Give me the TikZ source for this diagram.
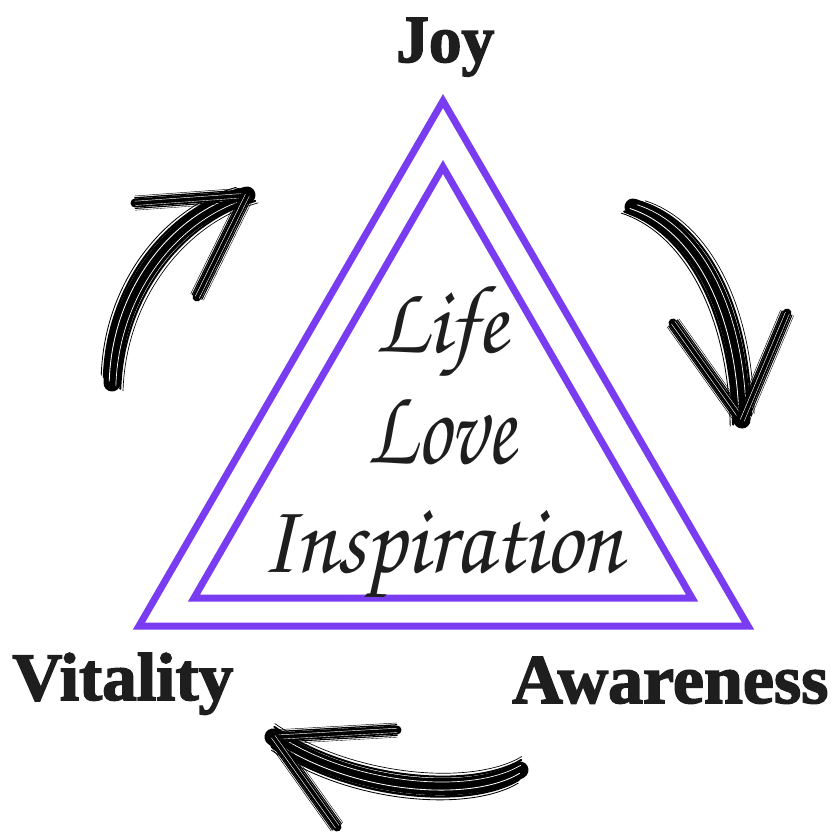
\documentclass[tikz,border=0pt]{standalone}
\usepackage[T1]{fontenc}
\usepackage{fontspec}
\setmainfont{Liberation Serif}
\newfontfamily\heavyfont[FakeBold=2.2]{Liberation Serif Bold}
\usepackage{graphicx}
\definecolor{tripurple}{HTML}{7A3CF0}
\definecolor{inkblack}{HTML}{1E1E1E}
\newcommand\myscript{\fontencoding{T1}\fontfamily{pzc}\fontseries{mb}\fontshape{it}\selectfont}
\newcommand\brushstroke[4]{%
  \draw[line width=#4*0.03cm, line cap=round, black] #1;
  \foreach \kk/\ww/\col in {-0.58/0.14/black, 0.6/0.12/black, -0.2/0.05/white, 0.28/0.04/white, 0.8/0.04/black, -0.78/0.05/black}{
    \begin{scope}[shift={({\kk*#4*#2},{\kk*#4*#3})}]
      \draw[line width=\ww*#4*0.03cm, color=\col, line cap=round] #1;
    \end{scope}}
}
\tikzset{
  tri/.style={draw=tripurple, line width=0.21cm, line join=miter},
  biglabel/.style={inner sep=0pt, text=inkblack, font=\heavyfont},
  scriptlabel/.style={inner sep=0pt, text=inkblack},
}
\begin{document}
\begin{tikzpicture}[x=0.03cm, y=-0.03cm]
\useasboundingbox[fill=white] (0,0) rectangle (833,833);

% triangles
\coordinate (oA) at (443,101);
\coordinate (oR) at (748,626);
\coordinate (oL) at (139,626);
\coordinate (iA) at (443,167);
\coordinate (iR) at (692,598);
\coordinate (iL) at (194,598);
\draw[tri] (oA) -- (oR) -- (oL) -- cycle;
\draw[tri] (iA) -- (iR) -- (iL) -- cycle;

% corner labels
\node[biglabel, anchor=base west] (joy) at (396,62) {\resizebox{2.94cm}{1.32cm}{Joy}};
\node[biglabel, anchor=base west] (vit) at (12,700) {\resizebox{6.63cm}{1.41cm}{Vitality}};
\node[biglabel, anchor=base west] (awa) at (512,703) {\resizebox{9.48cm}{1.38cm}{Awareness}};

% script words
\node[scriptlabel, anchor=base west] (life) at (375,352) {\resizebox{3.96cm}{2.07cm}{\myscript Life}};
\node[scriptlabel, anchor=base west] (love) at (367,463) {\resizebox{4.44cm}{2.04cm}{\myscript Love}};
\node[scriptlabel, anchor=base west] (insp) at (260,572) {\resizebox{10.86cm}{1.86cm}{\myscript Inspiration}};

% top-left brush arrow (Vitality -> Joy)
\brushstroke{(112,383) .. controls (115,290) and (175,215) .. (247,195)}{0.81}{0.58}{17}
\brushstroke{(247,195) -- (135,203)}{0.05}{1}{9}
\brushstroke{(247,195) -- (197,297)}{0.9}{0.44}{9}

% right brush arrow (Joy -> Awareness)
\brushstroke{(633,207) .. controls (690,225) and (740,300) .. (742,420)}{0.89}{-0.46}{17}
\brushstroke{(742,420) -- (673,323)}{0.82}{-0.58}{9}
\brushstroke{(742,420) -- (787,313)}{0.92}{0.39}{9}

% bottom brush arrow (Awareness -> Vitality)
\brushstroke{(520,770) .. controls (470,800) and (350,790) .. (273,737)}{0.13}{-0.99}{17}
\brushstroke{(273,737) -- (397,730)}{0.05}{1}{9}
\brushstroke{(273,737) -- (337,827)}{0.82}{-0.58}{9}
\end{tikzpicture}
\end{document}
